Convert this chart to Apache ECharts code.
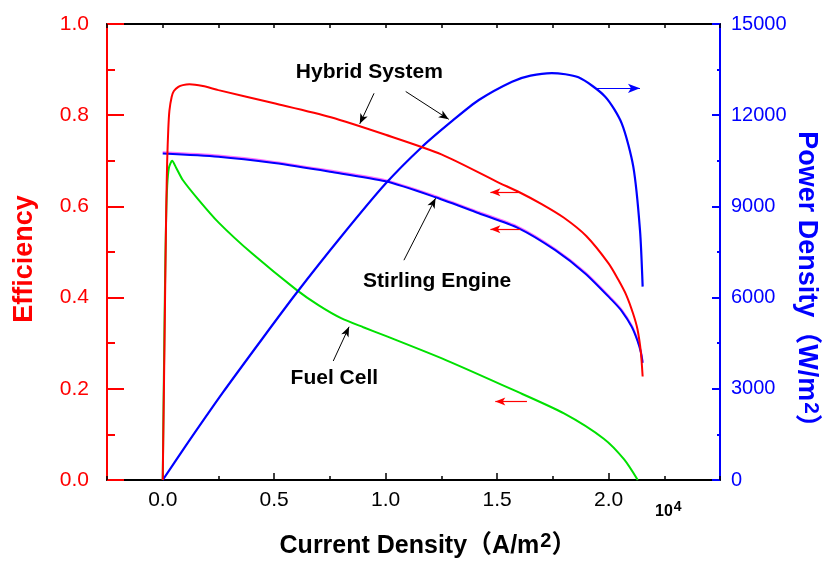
<!DOCTYPE html>
<html>
<head>
<meta charset="utf-8">
<script src="https://cdn.jsdelivr.net/npm/echarts@6/dist/echarts.min.js"></script>
<style>
  html, body { margin: 0; padding: 0; background: #ffffff; }
  #main { width: 829px; height: 562px; }
</style>
</head>
<body>
<div id="main"></div>
<script>
// Current density in units of 10^4 A/m^2
const hybridX   = [0, 0.004, 0.008, 0.012, 0.016, 0.02, 0.025, 0.03, 0.04, 0.05, 0.07, 0.09, 0.12, 0.18, 0.25, 0.5, 0.75, 1.0, 1.25, 1.5, 1.6, 1.7, 1.8, 1.9, 2.0, 2.044, 2.08, 2.11, 2.13, 2.145, 2.153];
const hybridEff = [0, 0.15, 0.3, 0.46, 0.6, 0.7, 0.77, 0.81, 0.84, 0.853, 0.862, 0.866, 0.868, 0.864, 0.855, 0.826, 0.796, 0.757, 0.714, 0.654, 0.631, 0.605, 0.575, 0.535, 0.475, 0.439, 0.405, 0.365, 0.33, 0.28, 0.227];

const stirlingX   = [0, 0.25, 0.5, 0.75, 1.0, 1.224, 1.418, 1.597, 1.761, 1.895, 2.014, 2.06, 2.104, 2.13, 2.145, 2.153];
const stirlingEff = [0.716, 0.709, 0.695, 0.676, 0.655, 0.62, 0.585, 0.552, 0.504, 0.453, 0.395, 0.37, 0.336, 0.305, 0.28, 0.257];

const fuelX   = [0, 0.005, 0.01, 0.015, 0.02, 0.028, 0.042, 0.06, 0.09, 0.16, 0.25, 0.4, 0.6, 0.7, 0.8, 0.9, 1.0, 1.27, 1.57, 1.8, 1.98, 2.07, 2.131];
const fuelEff = [0, 0.22, 0.42, 0.57, 0.645, 0.685, 0.70, 0.685, 0.658, 0.615, 0.565, 0.497, 0.417, 0.383, 0.355, 0.335, 0.316, 0.263, 0.198, 0.146, 0.09, 0.045, 0];

const powerX   = [0, 0.1, 0.27, 0.45, 0.6, 0.8, 1.0, 1.164, 1.3, 1.418, 1.567, 1.65, 1.745, 1.865, 1.985, 2.059, 2.111, 2.141, 2.153];
const powerDen = [0, 1090, 2880, 4680, 6150, 8000, 9750, 10964, 11820, 12500, 13103, 13300, 13385, 13245, 12610, 11733, 10307, 8224, 6360];

// Axis tick values
const xTickLabels  = [0.0, 0.5, 1.0, 1.5, 2.0];
const effTicks     = [0.0, 0.2, 0.4, 0.6, 0.8, 1.0];
const powerTicks   = [0, 3000, 6000, 9000, 12000, 15000];

// Curve captions and pointer arrows (data coordinates)
const captionNames = ['Hybrid System', 'Stirling Engine', 'Fuel Cell'];
const captionX     = [0.927, 1.231, 0.770];
const captionEff   = [0.894, 0.435, 0.223];

const pointerFrom = [[0.948, 0.848], [1.090, 0.852], [1.082, 0.482], [0.765, 0.261]];
const pointerTo   = [[0.884, 0.781], [1.283, 0.791], [1.224, 0.618], [0.836, 0.336]];
// red arrows: efficiency curves read on the left axis
const leftArrowFrom = [[1.597, 0.631], [1.604, 0.550], [1.634, 0.172]];
const leftArrowTo   = [[1.470, 0.631], [1.470, 0.550], [1.492, 0.172]];
// blue arrow: power curve read on the right axis
const rightArrowFrom = [1.940, 12885];
const rightArrowTo   = [2.141, 12885];

const FONT = 'Arial, "Liberation Sans", "Noto Sans CJK SC", sans-serif';
const RED = '#ff0000', BLUE = '#0000ff', GREEN = '#00e000';

const zip = (xs, ys) => xs.map((x, i) => [x, ys[i]]);
const near = (v, list) => list.some(t => Math.abs(v - t) < 1e-6);

const chart = echarts.init(document.getElementById('main'), null, { renderer: 'canvas' });

const option = {
  animation: false,
  backgroundColor: '#ffffff',
  grid: { left: 107, right: 109, top: 24, bottom: 82, containLabel: false },
  xAxis: [
    {
      type: 'value', position: 'bottom', min: -0.25, max: 2.5, interval: 0.25,
      axisLine: { show: true, onZero: false, lineStyle: { color: '#000', width: 2 } },
      axisTick: { show: true, inside: true, length: 4, lineStyle: { color: '#000', width: 1.5 } },
      axisLabel: {
        show: true, margin: 10, color: '#000', fontSize: 21, fontFamily: FONT,
        formatter: v => near(v, xTickLabels) ? v.toFixed(1) : ''
      },
      splitLine: { show: false }
    },
    {
      type: 'value', position: 'top', min: -0.25, max: 2.5, interval: 0.25,
      axisLine: { show: true, onZero: false, lineStyle: { color: '#000', width: 2 } },
      axisTick: { show: true, inside: true, length: 4, lineStyle: { color: '#000', width: 1.5 } },
      axisLabel: { show: false },
      splitLine: { show: false }
    },
    {
      // longer ticks at labelled positions
      type: 'value', position: 'bottom', min: -0.25, max: 2.5,
      axisLine: { show: false },
      axisTick: { show: true, inside: true, length: 7, customValues: xTickLabels, lineStyle: { color: '#000', width: 1.5 } },
      axisLabel: { show: false },
      splitLine: { show: false }
    }
  ],
  yAxis: [
    {
      type: 'value', position: 'left', min: 0, max: 1, interval: 0.2,
      axisLine: { show: true, onZero: false, lineStyle: { color: RED, width: 2 } },
      axisTick: { show: true, inside: true, length: 17, lineStyle: { color: RED, width: 2 } },
      minorTick: { show: true, splitNumber: 2, length: 8, lineStyle: { color: RED, width: 2 } },
      axisLabel: {
        show: true, margin: 18, color: RED, fontSize: 21, fontFamily: FONT,
        formatter: v => near(v, effTicks) ? v.toFixed(1) : ''
      },
      splitLine: { show: false }, minorSplitLine: { show: false }
    },
    {
      type: 'value', position: 'right', min: 0, max: 15000, interval: 3000,
      axisLine: { show: true, onZero: false, lineStyle: { color: BLUE, width: 2 } },
      axisTick: { show: true, inside: true, length: 8, lineStyle: { color: BLUE, width: 2 } },
      minorTick: { show: true, splitNumber: 2, length: 3, lineStyle: { color: BLUE, width: 2 } },
      axisLabel: {
        show: true, margin: 11, color: BLUE, fontSize: 20, fontFamily: FONT,
        formatter: v => near(v, powerTicks) ? String(v) : ''
      },
      splitLine: { show: false }, minorSplitLine: { show: false }
    }
  ],
  series: [
    {
      name: 'Fuel Cell', type: 'line', xAxisIndex: 0, yAxisIndex: 0,
      data: zip(fuelX, fuelEff), showSymbol: false, symbol: 'none',
      smooth: 0.25,
      lineStyle: { color: GREEN, width: 2 }, z: 3
    },
    {
      name: 'Stirling Engine', type: 'line', xAxisIndex: 0, yAxisIndex: 0,
      data: zip(stirlingX, stirlingEff), showSymbol: false, symbol: 'none',
      smooth: 0.25,
      lineStyle: { color: BLUE, width: 2, shadowColor: '#ff70ff', shadowBlur: 0, shadowOffsetY: -1.2 }, z: 3
    },
    {
      name: 'Power Density', type: 'line', xAxisIndex: 0, yAxisIndex: 1,
      data: zip(powerX, powerDen), showSymbol: false, symbol: 'none',
      smooth: 0.25,
      lineStyle: { color: BLUE, width: 2.2 }, z: 4,
      markLine: {
        silent: true, animation: false, symbol: ['none', 'arrow'], symbolSize: [7, 12],
        label: { show: false },
        lineStyle: { color: BLUE, width: 1.2, type: 'solid' },
        data: [[{ coord: rightArrowFrom }, { coord: rightArrowTo }]]
      }
    },
    {
      name: 'Hybrid System', type: 'line', xAxisIndex: 0, yAxisIndex: 0,
      data: zip(hybridX, hybridEff), showSymbol: false, symbol: 'none',
      smooth: 0.25,
      lineStyle: { color: RED, width: 2 }, z: 5,
      markLine: {
        silent: true, animation: false, symbol: ['none', 'arrow'], symbolSize: [6, 10],
        label: { show: false },
        lineStyle: { color: '#000', width: 1, type: 'solid' },
        data: pointerFrom.map((p, i) => [{ coord: p }, { coord: pointerTo[i] }]).concat(
          leftArrowFrom.map((p, i) => [
            { coord: p, lineStyle: { color: RED, width: 1.2 }, itemStyle: { color: RED } },
            { coord: leftArrowTo[i], itemStyle: { color: RED } }
          ])
        )
      },
      markPoint: {
        silent: true, animation: false, symbol: 'circle', symbolSize: 0,
        itemStyle: { color: 'transparent' },
        label: {
          show: true, position: 'inside', formatter: '{b}',
          color: '#000', fontSize: 21, fontWeight: 'bold', fontFamily: FONT
        },
        data: captionNames.map((n, i) => ({ name: n, coord: [captionX[i], captionEff[i]] }))
      }
    }
  ],
  graphic: [
    {
      type: 'text', x: 25, y: 259, rotation: Math.PI / 2, silent: true,
      style: {
        text: 'Efficiency', fill: RED, fontSize: 27, fontWeight: 'bold', fontFamily: FONT,
        align: 'center', verticalAlign: 'middle'
      }
    },
    {
      type: 'text', x: 806, y: 286, rotation: -Math.PI / 2, silent: true,
      style: {
        text: 'Power Density（W/m{s|2}）', fill: BLUE, fontSize: 27, fontWeight: 'bold', fontFamily: FONT,
        align: 'center', verticalAlign: 'middle',
        rich: { s: { fontSize: 21, fontWeight: 'bold', fontFamily: FONT, fill: BLUE, padding: [0, 0, 10, 1] } }
      }
    },
    {
      type: 'text', x: 428, y: 546, silent: true,
      style: {
        text: 'Current Density（A/m{s|2}）', fill: '#000', fontSize: 25, fontWeight: 'bold', fontFamily: FONT,
        align: 'center', verticalAlign: 'middle',
        rich: { s: { fontSize: 20, fontWeight: 'bold', fontFamily: FONT, fill: '#000', padding: [0, 0, 10, 1] } }
      }
    },
    {
      type: 'text', x: 655, y: 512, silent: true,
      style: {
        text: '10{s|4}', fill: '#000', fontSize: 16, fontWeight: 'bold', fontFamily: FONT,
        align: 'left', verticalAlign: 'middle',
        rich: { s: { fontSize: 14, fontWeight: 'bold', fontFamily: FONT, fill: '#000', padding: [0, 0, 9, 1] } }
      }
    }
  ]
};

chart.setOption(option);
</script>
</body>
</html>
